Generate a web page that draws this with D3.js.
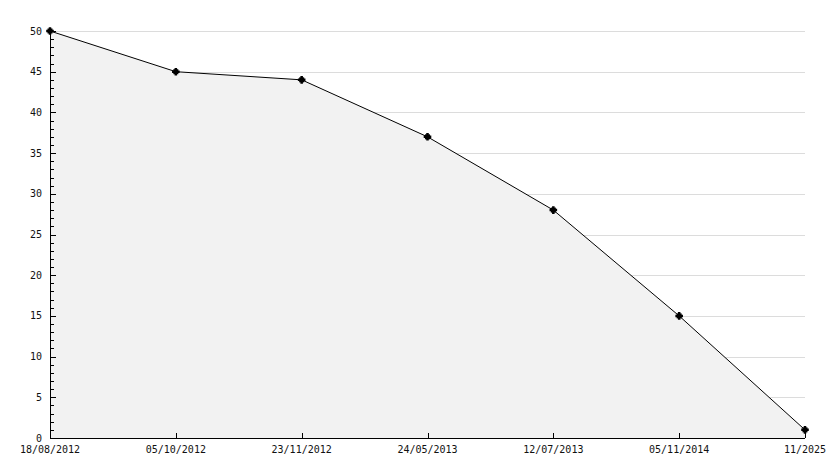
<!DOCTYPE html>
<html>
<head>
<meta charset="utf-8">
<script src="https://cdn.jsdelivr.net/npm/d3@7"></script>
<style>
body { margin: 0; background: #fff; }
text { font-family: "DejaVu Sans Mono", monospace; font-size: 10px; fill: #111; }
</style>
</head>
<body>
<div id="chart"></div>
<script>
// data
var dates = ["18/08/2012", "05/10/2012", "23/11/2012", "24/05/2013", "12/07/2013", "05/11/2014", "11/2025"];
var values = [50, 45, 44, 37, 28, 15, 1];
var yTicks = [0, 5, 10, 15, 20, 25, 30, 35, 40, 45, 50];

var W = 834, H = 468;
var margin = {top: 31, right: 29, bottom: 30, left: 50},
    width = W - margin.left - margin.right,
    height = H - margin.top - margin.bottom;

var svg = d3.select("#chart").append("svg")
  .attr("width", W).attr("height", H)
  .append("g")
  .attr("transform", "translate(" + margin.left + "," + margin.top + ")");

var x = d3.scalePoint().domain(dates).range([0, width]);
var y = d3.scaleLinear().domain([0, 50]).range([height, 0]);

var data = dates.map(function(d, i) { return {date: d, value: values[i]}; });

// grid lines
svg.append("g").selectAll("line")
  .data(yTicks.slice(1))
  .enter().append("line")
  .attr("x1", 0).attr("x2", width)
  .attr("y1", function(d) { return Math.round(y(d)) + 0.5; })
  .attr("y2", function(d) { return Math.round(y(d)) + 0.5; })
  .attr("stroke", "#dcdcdc").attr("stroke-width", 1);

// area under line
var area = d3.area()
  .x(function(d) { return x(d.date); })
  .y0(height)
  .y1(function(d) { return y(d.value); });
svg.append("path").datum(data)
  .attr("d", area)
  .attr("fill", "#f2f2f2");

// line
var line = d3.line()
  .x(function(d) { return x(d.date); })
  .y(function(d) { return y(d.value); });
svg.append("path").datum(data)
  .attr("d", line)
  .attr("fill", "none")
  .attr("stroke", "#000")
  .attr("stroke-width", 1);

// y axis: minor ticks every 1, major every 5, pointing inward
var minor = d3.range(0, 51);
var yAxis = svg.append("g");
yAxis.append("line")
  .attr("x1", 0.5).attr("x2", 0.5)
  .attr("y1", 0).attr("y2", height)
  .attr("stroke", "#000");
yAxis.selectAll(".tick")
  .data(minor)
  .enter().append("line")
  .attr("x1", 0)
  .attr("x2", function(d) { return d % 5 === 0 ? 6 : 4; })
  .attr("y1", function(d) { return Math.round(y(d)) + 0.5; })
  .attr("y2", function(d) { return Math.round(y(d)) + 0.5; })
  .attr("stroke", "#000");
yAxis.selectAll("text")
  .data(yTicks)
  .enter().append("text")
  .attr("x", -8)
  .attr("y", function(d) { return y(d); })
  .attr("dy", "0.35em")
  .attr("text-anchor", "end")
  .text(function(d) { return d; });

// x axis
var xAxis = svg.append("g").attr("transform", "translate(0," + height + ")");
xAxis.append("line")
  .attr("x1", 0).attr("x2", width)
  .attr("y1", 0.5).attr("y2", 0.5)
  .attr("stroke", "#000");
xAxis.selectAll(".tick")
  .data(dates)
  .enter().append("line")
  .attr("x1", function(d) { return Math.round(x(d)) + 0.5; })
  .attr("x2", function(d) { return Math.round(x(d)) + 0.5; })
  .attr("y1", 0).attr("y2", -5)
  .attr("stroke", "#000");
xAxis.selectAll("text")
  .data(dates)
  .enter().append("text")
  .attr("x", function(d) { return x(d); })
  .attr("y", 15)
  .attr("text-anchor", "middle")
  .text(function(d) { return d; });

// markers
svg.append("g").selectAll("path")
  .data(data)
  .enter().append("path")
  .attr("transform", function(d) { return "translate(" + x(d.date) + "," + y(d.value) + ")"; })
  .attr("d", d3.symbol().type(d3.symbolCross).size(32))
  .attr("fill", "#000");
svg.append("g").selectAll("rect")
  .data(data)
  .enter().append("rect")
  .attr("x", function(d) { return x(d.date) - 2.5; })
  .attr("y", function(d) { return y(d.value) - 2.5; })
  .attr("width", 5).attr("height", 5)
  .attr("fill", "#000");
</script>
</body>
</html>
